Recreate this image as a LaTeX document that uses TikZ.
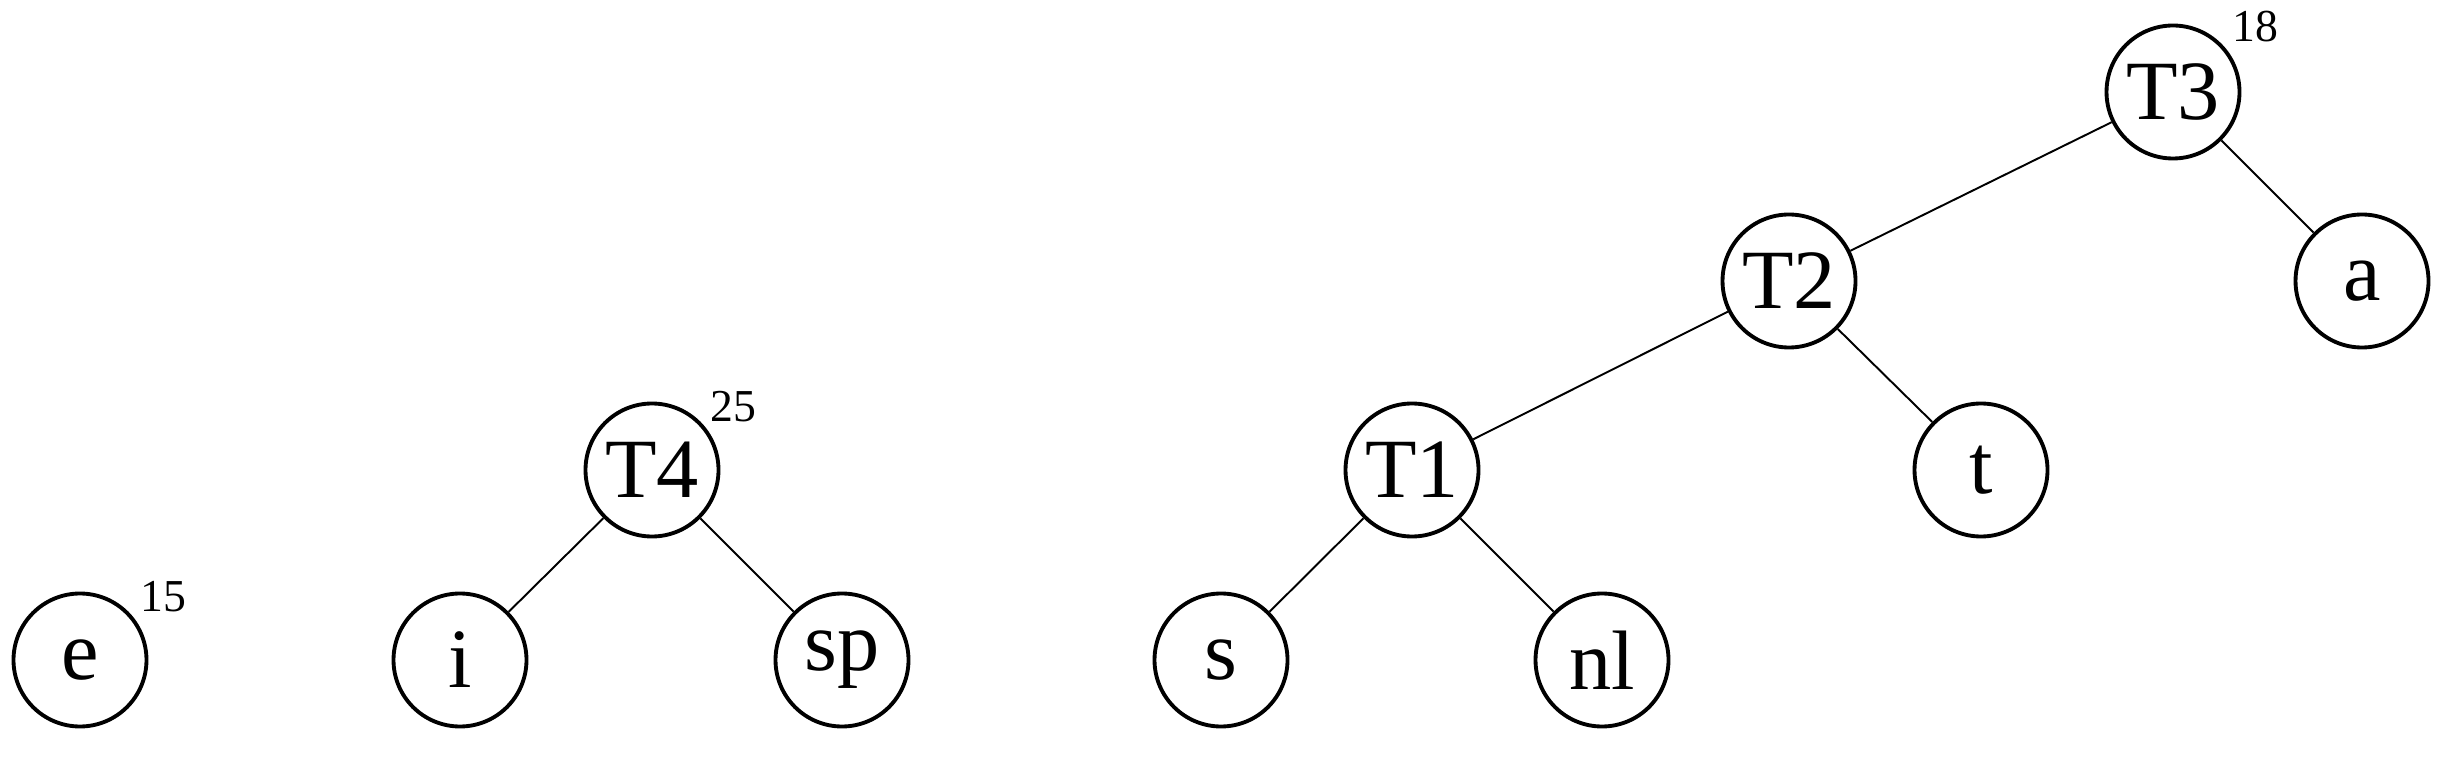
\documentclass[tikz,border=0pt]{standalone}
\usepackage{fontspec}
\setmainfont{Liberation Serif}
\usepackage{tikz}
\usetikzlibrary{calc}

\begin{document}
\begin{tikzpicture}[scale=1]
        \tikzset{
            noeud/.style={draw,circle,line width=1.1pt,minimum size=1.33cm,inner sep=0pt,font=\fontsize{24}{24}\selectfont},
            poids/.style={font=\fontsize{13}{13}\selectfont},
            arete/.style={line width=0.55pt}
        }
        \useasboundingbox (0,0) rectangle (24.42,7.56);

        % Les feuilles et les arbres partiels
        \node[noeud] (e) at (0.80,0.96) {e};
        \node[noeud] (T4) at (6.52,2.86) {T4};
        \node[noeud] (i) at (4.60,0.96) {i};
        \node[noeud] (sp) at (8.42,0.96) {sp};
        \node[noeud] (T3) at (21.73,6.64) {T3};
        \node[noeud] (T2) at (17.89,4.75) {T2};
        \node[noeud] (a) at (23.62,4.75) {a};
        \node[noeud] (T1) at (14.12,2.86) {T1};
        \node[noeud] (t) at (19.81,2.86) {t};
        \node[noeud] (s) at (12.21,0.96) {s};
        \node[noeud] (nl) at (16.02,0.96) {nl};

        % Les aretes
        \draw[arete] (T4) -- (i);
        \draw[arete] (T4) -- (sp);
        \draw[arete] (T3) -- (T2);
        \draw[arete] (T3) -- (a);
        \draw[arete] (T2) -- (T1);
        \draw[arete] (T2) -- (t);
        \draw[arete] (T1) -- (s);
        \draw[arete] (T1) -- (nl);

        % Les poids
        \node[poids] (pe) at (1.63,1.59) {15};
        \node[poids] (pT4) at (7.33,3.49) {25};
        \node[poids] (pT3) at (22.55,7.29) {18};
    \end{tikzpicture}
\end{document}
